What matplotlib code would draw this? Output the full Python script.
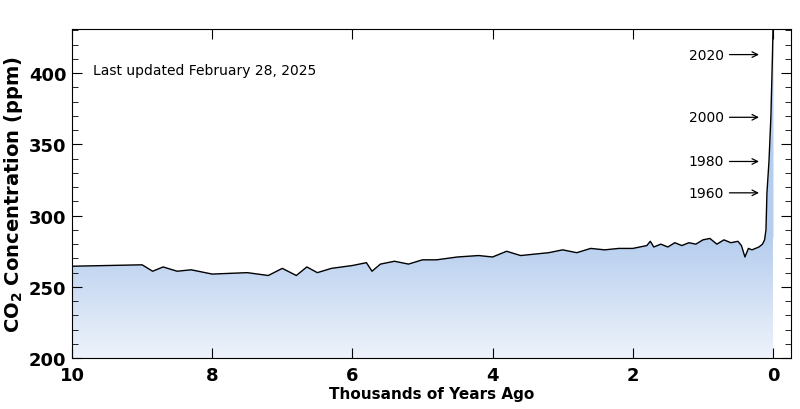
import numpy as np
import matplotlib.pyplot as plt
from matplotlib.colors import LinearSegmentedColormap
from matplotlib.ticker import MultipleLocator

# thousands of years ago, CO2 ppm
kya = [10.0, 9.5, 9.0, 8.85, 8.7, 8.5, 8.3, 8.0, 7.5, 7.2, 7.0, 6.8, 6.65, 6.5,
       6.3, 6.0, 5.8, 5.72, 5.6, 5.4, 5.2, 5.0, 4.8, 4.5, 4.2, 4.0, 3.8, 3.6,
       3.2, 3.0, 2.8, 2.6, 2.4, 2.2, 2.0, 1.8, 1.75, 1.7, 1.6, 1.5, 1.4, 1.3,
       1.2, 1.1, 1.0, 0.9, 0.8, 0.7, 0.6, 0.5, 0.45, 0.4, 0.35, 0.3, 0.25,
       0.2, 0.15, 0.12, 0.1, 0.086, 0.057, 0.03, 0.007, 0.0]
co2 = [264.5, 265, 265.5, 261, 264, 261, 262, 259, 260, 258, 263, 258, 264, 260,
       263, 265, 267, 261, 266, 268, 266, 269, 269, 271, 272, 271, 275, 272,
       274, 276, 274, 277, 276, 277, 277, 279, 282, 278, 280, 278, 281, 279,
       281, 280, 283, 284, 280, 283, 281, 282, 279, 271, 277, 276, 277,
       278, 280, 283, 290, 316, 338, 369, 413, 430]

years = ['2020', '2000', '1980', '1960']
year_ppm = [413, 369, 338, 316]

fig = plt.figure(figsize=(8, 4.1), dpi=100)
ax = fig.add_axes([0.09, 0.124, 0.899, 0.803])
ax.set_xlim(10, -0.26)
ax.set_ylim(200, 431)

# gradient fill under the curve
cmap = LinearSegmentedColormap.from_list('b', ['#eef3fb', '#b5cdee'])
grad = np.linspace(0, 1, 256).reshape(-1, 1)
im = ax.imshow(grad, cmap=cmap, aspect='auto', origin='lower',
               extent=[10, 0, 200, 285], zorder=1)
poly = ax.fill_between(kya, co2, 200, color='none')
im.set_clip_path(poly.get_paths()[0], transform=ax.transData)
ax.fill_between(kya, co2, 285, where=np.array(co2) > 285,
                color='#b5cdee', lw=0, zorder=1, interpolate=True)
ax.plot(kya, co2, color='black', lw=1, zorder=3)

for y, p in zip(years, year_ppm):
    ax.annotate(y, xy=(0.16, p), xytext=(0.7, p), va='center', ha='right',
                fontsize=10,
                arrowprops=dict(arrowstyle='->', color='black', lw=0.9))

ax.text(9.7, 402, 'Last updated February 28, 2025', fontsize=10, va='center')

ax.xaxis.set_major_locator(MultipleLocator(2))
ax.yaxis.set_major_locator(MultipleLocator(50))
ax.yaxis.set_minor_locator(MultipleLocator(10))
ax.tick_params(which='both', direction='in', top=True, right=True)
ax.tick_params(which='major', length=7, labelsize=13)
ax.tick_params(axis='y', pad=4)
ax.tick_params(axis='x', pad=6)
ax.tick_params(which='minor', length=4)
for lab in ax.get_xticklabels() + ax.get_yticklabels():
    lab.set_fontweight('bold')
ax.set_xlabel('Thousands of Years Ago', fontsize=11, fontweight='bold',
              labelpad=1)
ax.set_ylabel('CO$_\\mathbf{2}$ Concentration (ppm)', fontsize=14,
              fontweight='bold', labelpad=3)

fig.savefig('out.png', dpi=100)
